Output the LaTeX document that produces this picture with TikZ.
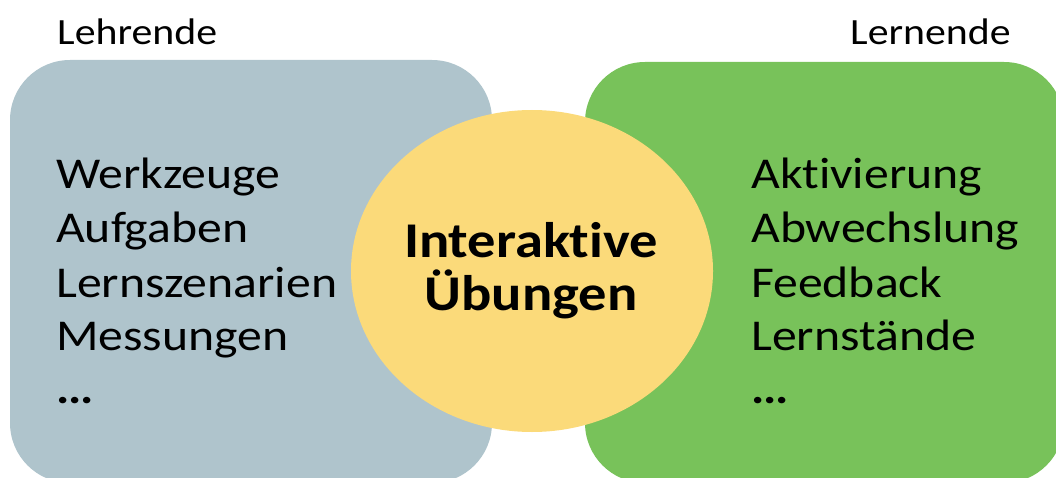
\documentclass[tikz,border=0pt]{standalone}
\usepackage{fontspec}
\setmainfont{Carlito}[FakeStretch=1.13, Ligatures=NoCommon]
\definecolor{lehrgrey}{HTML}{AFC4CC}
\definecolor{lerngreen}{HTML}{78C25A}
\definecolor{mitteyellow}{HTML}{FBDA7A}
\tikzset{
  item/.style={anchor=base west, inner sep=0pt, font=\fontsize{44}{52}\selectfont},
  head/.style={anchor=base west, inner sep=0pt, font=\fontsize{37}{44}\selectfont},
  center/.style={anchor=base, inner sep=0pt, font=\fontsize{50}{60}\selectfont\bfseries},
}
\newcommand{\mydots}{\textbf{.\kern-1pt.\kern-1pt.}}
\begin{document}
\begin{tikzpicture}[x=1pt,y=1pt]
\useasboundingbox (0,0) rectangle (1056,477);
\clip (0,0) rectangle (1056,477);
\fill[lehrgrey, rounded corners=60pt] (10,-6) rectangle (492,417);
\fill[lerngreen, rounded corners=60pt] (585,-6) rectangle (1064,415);
\fill[mitteyellow] (532,206) ellipse [x radius=181, y radius=161];
\node[head] (lehr) at (57,432) {Lehrende};
\node[head] (lern) at (850,432) {Lernende};
\node[item] (l1) at (56,288) {Werkzeuge};
\node[item] (l2) at (56,234) {Aufgaben};
\node[item] (l3) at (56,180) {Lernszenarien};
\node[item] (l4) at (56,127) {Messungen};
\node[item] (l5) at (56,74) {\mydots};
\node[item] (r1) at (751,288) {Aktivierung};
\node[item] (r2) at (751,234) {Abwechslung};
\node[item] (r3) at (751,180) {Feedback};
\node[item] (r4) at (751,127) {Lernstände};
\node[item] (r5) at (751,74) {\mydots};
\node[center] (c1) at (531,220) {Interaktive};
\node[center] (c2) at (531,167) {Übungen};
\end{tikzpicture}
\end{document}
